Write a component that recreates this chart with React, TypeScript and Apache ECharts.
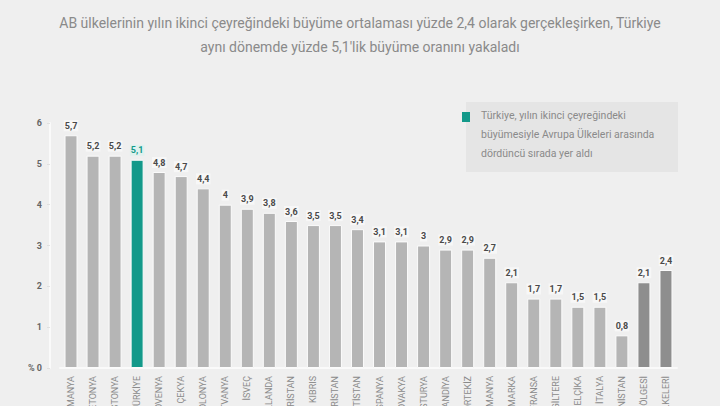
import React, { useEffect, useRef } from "react";
import * as echarts from "echarts";

const categories = [
  "ROMANYA", "LETONYA", "ESTONYA", "TÜRKİYE", "SLOVENYA", "ÇEKYA", "POLONYA",
  "LİTVANYA", "İSVEÇ", "HOLLANDA", "MACARİSTAN", "KIBRIS", "BULGARİSTAN",
  "HIRVATİSTAN", "İSPANYA", "SLOVAKYA", "AVUSTURYA", "FİNLANDİYA", "PORTEKİZ",
  "ALMANYA", "DANİMARKA", "FRANSA", "İNGİLTERE", "BELÇİKA", "İTALYA",
  "YUNANİSTAN", "EURO BÖLGESİ", "AB ÜLKELERİ",
];
const values = [
  5.7, 5.2, 5.2, 5.1, 4.8, 4.7, 4.4, 4, 3.9, 3.8, 3.6, 3.5, 3.5, 3.4, 3.1, 3.1,
  3, 2.9, 2.9, 2.7, 2.1, 1.7, 1.7, 1.5, 1.5, 0.8, 2.1, 2.4,
];
const highlight = "TÜRKİYE";
const aggregates = ["EURO BÖLGESİ", "AB ÜLKELERİ"];
const titleLines = [
  "AB ülkelerinin yılın ikinci çeyreğindeki büyüme ortalaması yüzde 2,4 olarak gerçekleşirken, Türkiye",
  "aynı dönemde yüzde 5,1'lik büyüme oranını yakaladı",
];
const noteLines = [
  "Türkiye, yılın ikinci çeyreğindeki",
  "büyümesiyle Avrupa Ülkeleri arasında",
  "dördüncü sırada yer aldı",
];

const TEAL = "#13998a";
const GREY = "#b5b5b5";
const DARK = "#8e8e8e";

export default function App() {
  const ref = useRef<HTMLDivElement>(null);
  useEffect(() => {
    document.body.style.margin = "0";
    const chart = echarts.init(ref.current!, null, { renderer: "svg" });
    const data = categories.map((c, i) => ({
      value: values[i],
      itemStyle: {
        color: c === highlight ? TEAL : aggregates.includes(c) ? DARK : GREY,
      },
      label: c === highlight ? { color: TEAL, backgroundColor: "#dff1ee" } : undefined,
    }));
    chart.setOption({
      animation: false,
      backgroundColor: "#efefef",
      title: {
        text: titleLines.join("\n"),
        left: "center",
        top: 6,
        textStyle: {
          color: "#8a8a8a",
          fontSize: 14,
          fontWeight: "normal",
          fontFamily: "Roboto",
          lineHeight: 24,
        },
      },
      grid: { left: 60, right: 43, top: 123, bottom: 38, outerBoundsMode: "none", containLabel: false },
      xAxis: {
        type: "category",
        data: categories,
        axisLine: { show: true, lineStyle: { color: "#fafafa", width: 2 } },
        axisTick: { show: false },
        axisLabel: {
          rotate: 90,
          interval: 0,
          fontSize: 9,
          color: "#8a8a8a",
          fontFamily: "Roboto",
          margin: 8,
        },
      },
      yAxis: {
        type: "value",
        min: 0,
        max: 6,
        interval: 1,
        offset: 10,
        axisLine: { show: true, lineStyle: { color: "#fafafa", width: 2 } },
        axisTick: { show: true, length: 3, lineStyle: { color: "#e0e0e0" } },
        splitLine: { show: false },
        axisLabel: {
          fontSize: 9,
          color: "#666",
          fontFamily: "Roboto",
          fontWeight: "bold",
          margin: 8,
          formatter: (v: number) => (v === 0 ? "% 0" : String(v)),
        },
      },
      series: [
        {
          type: "bar",
          data,
          barWidth: 13,
          itemStyle: { borderColor: "#fbfbfb", borderWidth: 1 },
          label: {
            show: true,
            position: "top",
            distance: 4,
            fontSize: 9,
            fontWeight: "bold",
            color: "#4a4a4a",
            fontFamily: "Roboto",
            backgroundColor: "#f7f7f7",
            padding: [1, 1],
            formatter: (p: any) => String(p.value).replace(".", ","),
          },
        },
      ],
      graphic: [
        {
          type: "rect",
          shape: { x: 466, y: 102, width: 212, height: 70 },
          style: { fill: "#e5e5e5" },
        },
        {
          type: "rect",
          shape: { x: 462, y: 112, width: 8, height: 10 },
          style: { fill: TEAL },
        },
        ...noteLines.map((t, i) => ({
          type: "text",
          x: 481,
          y: 110 + i * 19,
          style: {
            text: t,
            fill: "#8a8a8a",
            fontSize: 10.5,
            fontFamily: "Roboto",
          },
        })),
      ],
    });
    return () => chart.dispose();
  }, []);
  return <div ref={ref} style={{ width: 720, height: 406 }} />;
}
